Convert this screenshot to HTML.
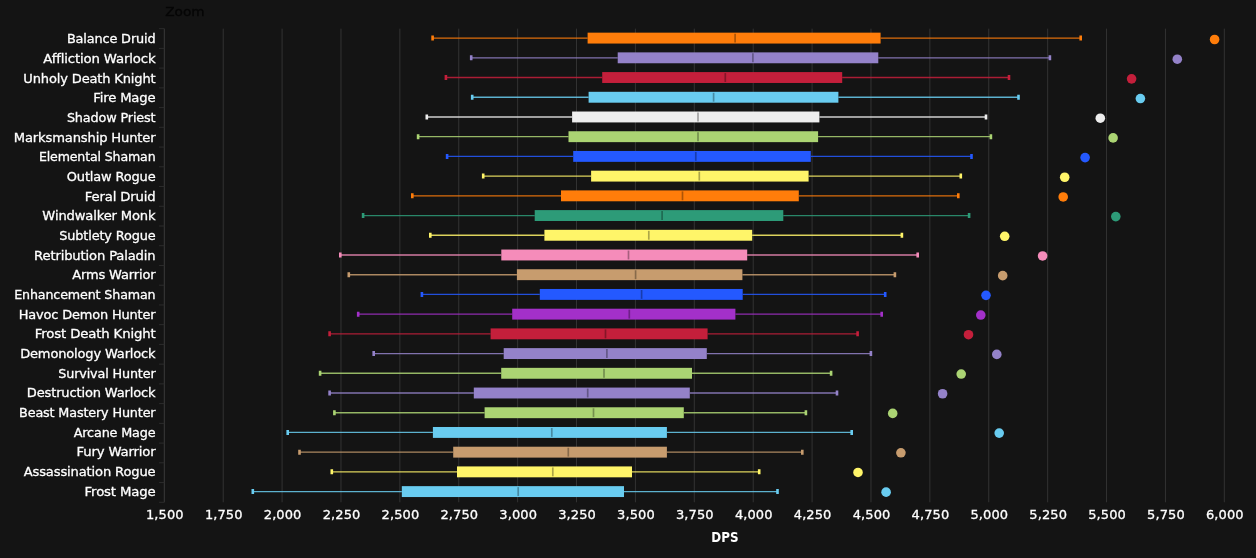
<!DOCTYPE html>
<html><head><meta charset="utf-8"><title>DPS</title>
<style>
html,body{margin:0;padding:0;background:#141414;}
body{width:1256px;height:558px;overflow:hidden;}
svg{display:block;}
text{font-family:"DejaVu Sans","Liberation Sans",sans-serif;font-size:13px;fill:#ffffff;stroke:#ffffff;stroke-width:0.3px;}
.yl{text-anchor:end;letter-spacing:-0.15px;}
.xl{text-anchor:middle;letter-spacing:0.1px;}
.ttl{text-anchor:middle;font-weight:bold;font-size:13.2px;stroke-width:0;}
.zoom{fill:#060606;stroke:#060606;font-size:13px;}
</style></head><body>
<svg width="1256" height="558" viewBox="0 0 1256 558">
<rect x="0" y="0" width="1256" height="558" fill="#141414"/>

<g stroke="#333333" stroke-width="1" fill="none">
<path d="M223.19 28.65V502.29"/>
<path d="M282.08 28.65V502.29"/>
<path d="M340.97 28.65V502.29"/>
<path d="M399.86 28.65V502.29"/>
<path d="M458.75 28.65V502.29"/>
<path d="M517.64 28.65V502.29"/>
<path d="M576.53 28.65V502.29"/>
<path d="M635.42 28.65V502.29"/>
<path d="M694.31 28.65V502.29"/>
<path d="M753.20 28.65V502.29"/>
<path d="M812.09 28.65V502.29"/>
<path d="M870.98 28.65V502.29"/>
<path d="M929.87 28.65V502.29"/>
<path d="M988.76 28.65V502.29"/>
<path d="M1047.65 28.65V502.29"/>
<path d="M1106.54 28.65V502.29"/>
<path d="M1165.43 28.65V502.29"/>
<path d="M1224.32 28.65V502.29"/>
</g>
<g stroke="#3a3a3a" stroke-width="1" fill="none">
<path d="M164.30 28.65V502.29"/>
<path d="M159.10 28.65H164.30" stroke="#2c2c2c"/>
<path d="M159.10 48.38H164.30" stroke="#2c2c2c"/>
<path d="M159.10 68.12H164.30" stroke="#2c2c2c"/>
<path d="M159.10 87.85H164.30" stroke="#2c2c2c"/>
<path d="M159.10 107.59H164.30" stroke="#2c2c2c"/>
<path d="M159.10 127.32H164.30" stroke="#2c2c2c"/>
<path d="M159.10 147.06H164.30" stroke="#2c2c2c"/>
<path d="M159.10 166.79H164.30" stroke="#2c2c2c"/>
<path d="M159.10 186.53H164.30" stroke="#2c2c2c"/>
<path d="M159.10 206.27H164.30" stroke="#2c2c2c"/>
<path d="M159.10 226.00H164.30" stroke="#2c2c2c"/>
<path d="M159.10 245.73H164.30" stroke="#2c2c2c"/>
<path d="M159.10 265.47H164.30" stroke="#2c2c2c"/>
<path d="M159.10 285.20H164.30" stroke="#2c2c2c"/>
<path d="M159.10 304.94H164.30" stroke="#2c2c2c"/>
<path d="M159.10 324.67H164.30" stroke="#2c2c2c"/>
<path d="M159.10 344.41H164.30" stroke="#2c2c2c"/>
<path d="M159.10 364.14H164.30" stroke="#2c2c2c"/>
<path d="M159.10 383.88H164.30" stroke="#2c2c2c"/>
<path d="M159.10 403.61H164.30" stroke="#2c2c2c"/>
<path d="M159.10 423.35H164.30" stroke="#2c2c2c"/>
<path d="M159.10 443.08H164.30" stroke="#2c2c2c"/>
<path d="M159.10 462.82H164.30" stroke="#2c2c2c"/>
<path d="M159.10 482.55H164.30" stroke="#2c2c2c"/>
<path d="M159.10 502.29H164.30" stroke="#2c2c2c"/>
</g>
<text class="zoom" x="165.2" y="16.1" textLength="39.4" lengthAdjust="spacingAndGlyphs">Zoom</text>
<g class="yl">
<text x="155.5" y="43.25" textLength="88.6" lengthAdjust="spacingAndGlyphs">Balance Druid</text>
<text x="155.5" y="62.92" textLength="112.28" lengthAdjust="spacingAndGlyphs">Affliction Warlock</text>
<text x="155.5" y="82.60" textLength="132.15" lengthAdjust="spacingAndGlyphs">Unholy Death Knight</text>
<text x="155.5" y="102.28" textLength="62.32" lengthAdjust="spacingAndGlyphs">Fire Mage</text>
<text x="155.5" y="121.95" textLength="88.62" lengthAdjust="spacingAndGlyphs">Shadow Priest</text>
<text x="155.5" y="141.62" textLength="141.66" lengthAdjust="spacingAndGlyphs">Marksmanship Hunter</text>
<text x="155.5" y="161.30" textLength="116.57" lengthAdjust="spacingAndGlyphs">Elemental Shaman</text>
<text x="155.5" y="180.97" textLength="88.72" lengthAdjust="spacingAndGlyphs">Outlaw Rogue</text>
<text x="155.5" y="200.65" textLength="70.74" lengthAdjust="spacingAndGlyphs">Feral Druid</text>
<text x="155.5" y="220.33" textLength="113.12" lengthAdjust="spacingAndGlyphs">Windwalker Monk</text>
<text x="155.5" y="240.00" textLength="96.17" lengthAdjust="spacingAndGlyphs">Subtlety Rogue</text>
<text x="155.5" y="259.68" textLength="121.39" lengthAdjust="spacingAndGlyphs">Retribution Paladin</text>
<text x="155.5" y="279.35" textLength="83.24" lengthAdjust="spacingAndGlyphs">Arms Warrior</text>
<text x="155.5" y="299.02" textLength="141.31" lengthAdjust="spacingAndGlyphs">Enhancement Shaman</text>
<text x="155.5" y="318.70" textLength="136.87" lengthAdjust="spacingAndGlyphs">Havoc Demon Hunter</text>
<text x="155.5" y="338.38" textLength="120.67" lengthAdjust="spacingAndGlyphs">Frost Death Knight</text>
<text x="155.5" y="358.05" textLength="135.34" lengthAdjust="spacingAndGlyphs">Demonology Warlock</text>
<text x="155.5" y="377.73" textLength="97.2" lengthAdjust="spacingAndGlyphs">Survival Hunter</text>
<text x="155.5" y="397.40" textLength="128.68" lengthAdjust="spacingAndGlyphs">Destruction Warlock</text>
<text x="155.5" y="417.07" textLength="136.41" lengthAdjust="spacingAndGlyphs">Beast Mastery Hunter</text>
<text x="155.5" y="436.75" textLength="81.82" lengthAdjust="spacingAndGlyphs">Arcane Mage</text>
<text x="155.5" y="456.43" textLength="79.05" lengthAdjust="spacingAndGlyphs">Fury Warrior</text>
<text x="155.5" y="476.10" textLength="131.76" lengthAdjust="spacingAndGlyphs">Assassination Rogue</text>
<text x="155.5" y="495.78" textLength="70.88" lengthAdjust="spacingAndGlyphs">Frost Mage</text>
</g>
<g class="xl">
<text x="164.85" y="518.6">1,500</text>
<text x="223.74" y="518.6">1,750</text>
<text x="282.63" y="518.6">2,000</text>
<text x="341.52" y="518.6">2,250</text>
<text x="400.41" y="518.6">2,500</text>
<text x="459.30" y="518.6">2,750</text>
<text x="518.19" y="518.6">3,000</text>
<text x="577.08" y="518.6">3,250</text>
<text x="635.97" y="518.6">3,500</text>
<text x="694.86" y="518.6">3,750</text>
<text x="753.75" y="518.6">4,000</text>
<text x="812.64" y="518.6">4,250</text>
<text x="871.53" y="518.6">4,500</text>
<text x="930.42" y="518.6">4,750</text>
<text x="989.31" y="518.6">5,000</text>
<text x="1048.20" y="518.6">5,250</text>
<text x="1107.09" y="518.6">5,500</text>
<text x="1165.98" y="518.6">5,750</text>
<text x="1224.87" y="518.6">6,000</text>
</g>
<text class="ttl" x="724.9" y="542.2" textLength="27.2" lengthAdjust="spacingAndGlyphs">DPS</text>
<g>
<path d="M432.60 38.10H587.60M880.60 38.10H1080.70" stroke="#FF7D0A" stroke-width="1.35" stroke-opacity="0.85" fill="none"/>
<path d="M432.60 35.60V40.60M1080.70 35.60V40.60" stroke="#FF7D0A" stroke-width="2.6" fill="none"/>
<rect x="587.60" y="32.65" width="293.00" height="10.90" fill="#FF7D0A"/>
<path d="M735.10 33.65V42.55" stroke="#000" stroke-opacity="0.32" stroke-width="1.7" fill="none"/>
<circle cx="1214.60" cy="39.50" r="4.8" fill="#FF7D0A"/>
</g>
<g>
<path d="M471.20 57.82H617.70M878.30 57.82H1049.90" stroke="#9482C9" stroke-width="1.35" stroke-opacity="0.85" fill="none"/>
<path d="M471.20 55.32V60.32M1049.90 55.32V60.32" stroke="#9482C9" stroke-width="2.6" fill="none"/>
<rect x="617.70" y="52.37" width="260.60" height="10.90" fill="#9482C9"/>
<path d="M752.90 53.37V62.27" stroke="#000" stroke-opacity="0.32" stroke-width="1.7" fill="none"/>
<circle cx="1177.30" cy="59.18" r="4.8" fill="#9482C9"/>
</g>
<g>
<path d="M445.90 77.53H602.20M842.20 77.53H1009.00" stroke="#C41F3B" stroke-width="1.35" stroke-opacity="0.85" fill="none"/>
<path d="M445.90 75.03V80.03M1009.00 75.03V80.03" stroke="#C41F3B" stroke-width="2.6" fill="none"/>
<rect x="602.20" y="72.08" width="240.00" height="10.90" fill="#C41F3B"/>
<path d="M725.30 73.08V81.98" stroke="#000" stroke-opacity="0.32" stroke-width="1.7" fill="none"/>
<circle cx="1131.60" cy="78.86" r="4.8" fill="#C41F3B"/>
</g>
<g>
<path d="M472.20 97.25H588.60M838.40 97.25H1018.50" stroke="#69CCF0" stroke-width="1.35" stroke-opacity="0.85" fill="none"/>
<path d="M472.20 94.75V99.75M1018.50 94.75V99.75" stroke="#69CCF0" stroke-width="2.6" fill="none"/>
<rect x="588.60" y="91.80" width="249.80" height="10.90" fill="#69CCF0"/>
<path d="M713.60 92.80V101.70" stroke="#000" stroke-opacity="0.32" stroke-width="1.7" fill="none"/>
<circle cx="1140.40" cy="98.54" r="4.8" fill="#69CCF0"/>
</g>
<g>
<path d="M426.80 116.97H572.10M819.40 116.97H986.00" stroke="#EEEEEE" stroke-width="1.35" stroke-opacity="0.85" fill="none"/>
<path d="M426.80 114.47V119.47M986.00 114.47V119.47" stroke="#EEEEEE" stroke-width="2.6" fill="none"/>
<rect x="572.10" y="111.52" width="247.30" height="10.90" fill="#EEEEEE"/>
<path d="M698.00 112.52V121.42" stroke="#000" stroke-opacity="0.32" stroke-width="1.7" fill="none"/>
<circle cx="1100.30" cy="118.22" r="4.8" fill="#EEEEEE"/>
</g>
<g>
<path d="M418.10 136.69H568.50M818.10 136.69H990.90" stroke="#ABD473" stroke-width="1.35" stroke-opacity="0.85" fill="none"/>
<path d="M418.10 134.19V139.19M990.90 134.19V139.19" stroke="#ABD473" stroke-width="2.6" fill="none"/>
<rect x="568.50" y="131.24" width="249.60" height="10.90" fill="#ABD473"/>
<path d="M698.00 132.24V141.13" stroke="#000" stroke-opacity="0.32" stroke-width="1.7" fill="none"/>
<circle cx="1113.10" cy="137.90" r="4.8" fill="#ABD473"/>
</g>
<g>
<path d="M447.10 156.40H573.20M810.80 156.40H971.50" stroke="#2459FF" stroke-width="1.35" stroke-opacity="0.85" fill="none"/>
<path d="M447.10 153.90V158.90M971.50 153.90V158.90" stroke="#2459FF" stroke-width="2.6" fill="none"/>
<rect x="573.20" y="150.95" width="237.60" height="10.90" fill="#2459FF"/>
<path d="M695.80 151.95V160.85" stroke="#000" stroke-opacity="0.32" stroke-width="1.7" fill="none"/>
<circle cx="1085.10" cy="157.58" r="4.8" fill="#2459FF"/>
</g>
<g>
<path d="M483.20 176.12H591.10M808.60 176.12H960.80" stroke="#FFF569" stroke-width="1.35" stroke-opacity="0.85" fill="none"/>
<path d="M483.20 173.62V178.62M960.80 173.62V178.62" stroke="#FFF569" stroke-width="2.6" fill="none"/>
<rect x="591.10" y="170.67" width="217.50" height="10.90" fill="#FFF569"/>
<path d="M699.30 171.67V180.57" stroke="#000" stroke-opacity="0.32" stroke-width="1.7" fill="none"/>
<circle cx="1064.70" cy="177.26" r="4.8" fill="#FFF569"/>
</g>
<g>
<path d="M412.30 195.84H561.00M798.80 195.84H958.30" stroke="#FF7D0A" stroke-width="1.35" stroke-opacity="0.85" fill="none"/>
<path d="M412.30 193.34V198.34M958.30 193.34V198.34" stroke="#FF7D0A" stroke-width="2.6" fill="none"/>
<rect x="561.00" y="190.39" width="237.80" height="10.90" fill="#FF7D0A"/>
<path d="M682.50 191.39V200.29" stroke="#000" stroke-opacity="0.32" stroke-width="1.7" fill="none"/>
<circle cx="1063.20" cy="196.94" r="4.8" fill="#FF7D0A"/>
</g>
<g>
<path d="M363.10 215.55H534.70M783.30 215.55H969.10" stroke="#2D9B78" stroke-width="1.35" stroke-opacity="0.85" fill="none"/>
<path d="M363.10 213.05V218.05M969.10 213.05V218.05" stroke="#2D9B78" stroke-width="2.6" fill="none"/>
<rect x="534.70" y="210.10" width="248.60" height="10.90" fill="#2D9B78"/>
<path d="M662.10 211.10V220.00" stroke="#000" stroke-opacity="0.32" stroke-width="1.7" fill="none"/>
<circle cx="1115.80" cy="216.62" r="4.8" fill="#2D9B78"/>
</g>
<g>
<path d="M430.30 235.27H544.40M752.20 235.27H901.90" stroke="#FFF569" stroke-width="1.35" stroke-opacity="0.85" fill="none"/>
<path d="M430.30 232.77V237.77M901.90 232.77V237.77" stroke="#FFF569" stroke-width="2.6" fill="none"/>
<rect x="544.40" y="229.82" width="207.80" height="10.90" fill="#FFF569"/>
<path d="M648.80 230.82V239.72" stroke="#000" stroke-opacity="0.32" stroke-width="1.7" fill="none"/>
<circle cx="1004.70" cy="236.30" r="4.8" fill="#FFF569"/>
</g>
<g>
<path d="M340.30 254.99H501.30M747.20 254.99H917.70" stroke="#F58CBA" stroke-width="1.35" stroke-opacity="0.85" fill="none"/>
<path d="M340.30 252.49V257.49M917.70 252.49V257.49" stroke="#F58CBA" stroke-width="2.6" fill="none"/>
<rect x="501.30" y="249.54" width="245.90" height="10.90" fill="#F58CBA"/>
<path d="M628.50 250.54V259.44" stroke="#000" stroke-opacity="0.32" stroke-width="1.7" fill="none"/>
<circle cx="1042.60" cy="255.98" r="4.8" fill="#F58CBA"/>
</g>
<g>
<path d="M348.80 274.70H516.90M742.40 274.70H894.90" stroke="#C79C6E" stroke-width="1.35" stroke-opacity="0.85" fill="none"/>
<path d="M348.80 272.20V277.20M894.90 272.20V277.20" stroke="#C79C6E" stroke-width="2.6" fill="none"/>
<rect x="516.90" y="269.25" width="225.50" height="10.90" fill="#C79C6E"/>
<path d="M635.60 270.25V279.15" stroke="#000" stroke-opacity="0.32" stroke-width="1.7" fill="none"/>
<circle cx="1002.70" cy="275.66" r="4.8" fill="#C79C6E"/>
</g>
<g>
<path d="M421.90 294.42H539.80M742.70 294.42H885.20" stroke="#2459FF" stroke-width="1.35" stroke-opacity="0.85" fill="none"/>
<path d="M421.90 291.92V296.92M885.20 291.92V296.92" stroke="#2459FF" stroke-width="2.6" fill="none"/>
<rect x="539.80" y="288.97" width="202.90" height="10.90" fill="#2459FF"/>
<path d="M641.60 289.97V298.87" stroke="#000" stroke-opacity="0.32" stroke-width="1.7" fill="none"/>
<circle cx="986.00" cy="295.34" r="4.8" fill="#2459FF"/>
</g>
<g>
<path d="M358.20 314.14H512.20M735.40 314.14H881.70" stroke="#A330C9" stroke-width="1.35" stroke-opacity="0.85" fill="none"/>
<path d="M358.20 311.64V316.64M881.70 311.64V316.64" stroke="#A330C9" stroke-width="2.6" fill="none"/>
<rect x="512.20" y="308.69" width="223.20" height="10.90" fill="#A330C9"/>
<path d="M629.30 309.69V318.59" stroke="#000" stroke-opacity="0.32" stroke-width="1.7" fill="none"/>
<circle cx="980.80" cy="315.02" r="4.8" fill="#A330C9"/>
</g>
<g>
<path d="M329.60 333.86H490.60M707.60 333.86H857.60" stroke="#C41F3B" stroke-width="1.35" stroke-opacity="0.85" fill="none"/>
<path d="M329.60 331.36V336.36M857.60 331.36V336.36" stroke="#C41F3B" stroke-width="2.6" fill="none"/>
<rect x="490.60" y="328.41" width="217.00" height="10.90" fill="#C41F3B"/>
<path d="M605.50 329.41V338.31" stroke="#000" stroke-opacity="0.32" stroke-width="1.7" fill="none"/>
<circle cx="968.50" cy="334.70" r="4.8" fill="#C41F3B"/>
</g>
<g>
<path d="M373.70 353.57H503.70M706.80 353.57H870.90" stroke="#9482C9" stroke-width="1.35" stroke-opacity="0.85" fill="none"/>
<path d="M373.70 351.07V356.07M870.90 351.07V356.07" stroke="#9482C9" stroke-width="2.6" fill="none"/>
<rect x="503.70" y="348.12" width="203.10" height="10.90" fill="#9482C9"/>
<path d="M606.90 349.12V358.02" stroke="#000" stroke-opacity="0.32" stroke-width="1.7" fill="none"/>
<circle cx="996.80" cy="354.38" r="4.8" fill="#9482C9"/>
</g>
<g>
<path d="M320.10 373.29H501.20M692.00 373.29H831.10" stroke="#ABD473" stroke-width="1.35" stroke-opacity="0.85" fill="none"/>
<path d="M320.10 370.79V375.79M831.10 370.79V375.79" stroke="#ABD473" stroke-width="2.6" fill="none"/>
<rect x="501.20" y="367.84" width="190.80" height="10.90" fill="#ABD473"/>
<path d="M604.00 368.84V377.74" stroke="#000" stroke-opacity="0.32" stroke-width="1.7" fill="none"/>
<circle cx="961.20" cy="374.06" r="4.8" fill="#ABD473"/>
</g>
<g>
<path d="M329.60 393.01H473.80M689.80 393.01H837.00" stroke="#9482C9" stroke-width="1.35" stroke-opacity="0.85" fill="none"/>
<path d="M329.60 390.51V395.51M837.00 390.51V395.51" stroke="#9482C9" stroke-width="2.6" fill="none"/>
<rect x="473.80" y="387.56" width="216.00" height="10.90" fill="#9482C9"/>
<path d="M587.70 388.56V397.46" stroke="#000" stroke-opacity="0.32" stroke-width="1.7" fill="none"/>
<circle cx="942.60" cy="393.74" r="4.8" fill="#9482C9"/>
</g>
<g>
<path d="M334.40 412.72H484.60M683.80 412.72H805.90" stroke="#ABD473" stroke-width="1.35" stroke-opacity="0.85" fill="none"/>
<path d="M334.40 410.22V415.22M805.90 410.22V415.22" stroke="#ABD473" stroke-width="2.6" fill="none"/>
<rect x="484.60" y="407.27" width="199.20" height="10.90" fill="#ABD473"/>
<path d="M593.50 408.27V417.17" stroke="#000" stroke-opacity="0.32" stroke-width="1.7" fill="none"/>
<circle cx="892.70" cy="413.42" r="4.8" fill="#ABD473"/>
</g>
<g>
<path d="M287.70 432.44H432.90M666.90 432.44H851.70" stroke="#69CCF0" stroke-width="1.35" stroke-opacity="0.85" fill="none"/>
<path d="M287.70 429.94V434.94M851.70 429.94V434.94" stroke="#69CCF0" stroke-width="2.6" fill="none"/>
<rect x="432.90" y="426.99" width="234.00" height="10.90" fill="#69CCF0"/>
<path d="M551.80 427.99V436.89" stroke="#000" stroke-opacity="0.32" stroke-width="1.7" fill="none"/>
<circle cx="999.20" cy="433.10" r="4.8" fill="#69CCF0"/>
</g>
<g>
<path d="M299.50 452.16H453.20M666.90 452.16H802.30" stroke="#C79C6E" stroke-width="1.35" stroke-opacity="0.85" fill="none"/>
<path d="M299.50 449.66V454.66M802.30 449.66V454.66" stroke="#C79C6E" stroke-width="2.6" fill="none"/>
<rect x="453.20" y="446.71" width="213.70" height="10.90" fill="#C79C6E"/>
<path d="M568.30 447.71V456.61" stroke="#000" stroke-opacity="0.32" stroke-width="1.7" fill="none"/>
<circle cx="900.90" cy="452.78" r="4.8" fill="#C79C6E"/>
</g>
<g>
<path d="M331.80 471.87H457.00M632.00 471.87H759.20" stroke="#FFF569" stroke-width="1.35" stroke-opacity="0.85" fill="none"/>
<path d="M331.80 469.37V474.37M759.20 469.37V474.37" stroke="#FFF569" stroke-width="2.6" fill="none"/>
<rect x="457.00" y="466.42" width="175.00" height="10.90" fill="#FFF569"/>
<path d="M552.80 467.42V476.32" stroke="#000" stroke-opacity="0.32" stroke-width="1.7" fill="none"/>
<circle cx="858.00" cy="472.46" r="4.8" fill="#FFF569"/>
</g>
<g>
<path d="M252.80 491.59H401.80M624.00 491.59H777.50" stroke="#69CCF0" stroke-width="1.35" stroke-opacity="0.85" fill="none"/>
<path d="M252.80 489.09V494.09M777.50 489.09V494.09" stroke="#69CCF0" stroke-width="2.6" fill="none"/>
<rect x="401.80" y="486.14" width="222.20" height="10.90" fill="#69CCF0"/>
<path d="M518.20 487.14V496.04" stroke="#000" stroke-opacity="0.32" stroke-width="1.7" fill="none"/>
<circle cx="886.10" cy="492.14" r="4.8" fill="#69CCF0"/>
</g>
</svg></body></html>
